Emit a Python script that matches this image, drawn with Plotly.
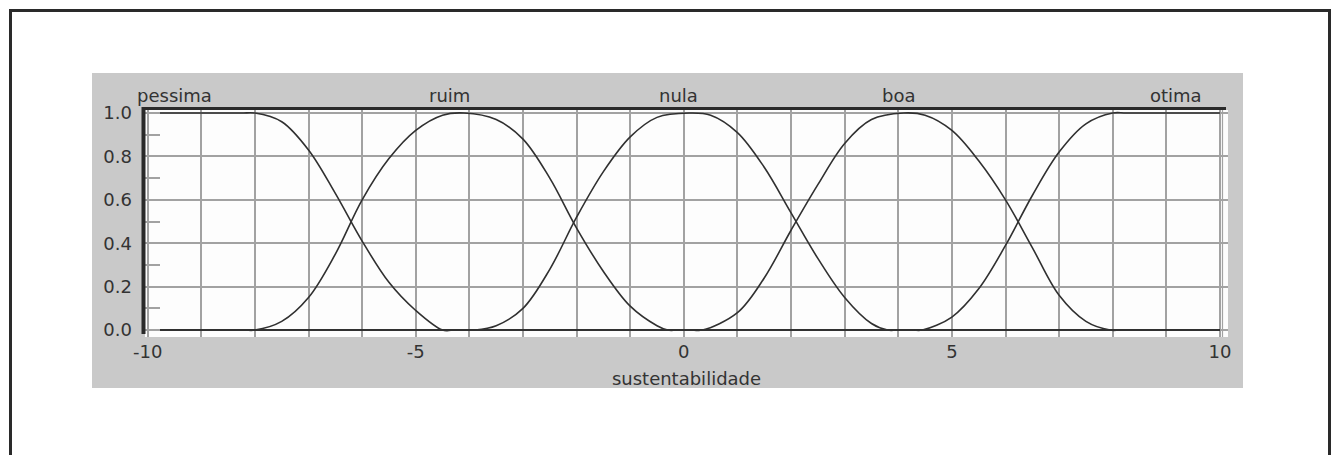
import plotly.graph_objects as go

# membership curves (x: sustentabilidade, y: degree)
pessima_x = [-10, -9, -8.25, -8, -7.5, -7, -6.5, -6, -5.5, -5, -4.5, -4.3, -3, 10]
pessima_y = [1, 1, 1, 1, 0.96, 0.83, 0.63, 0.41, 0.22, 0.09, 0, 0, 0, 0]

ruim_x = [-10, -9, -8.2, -8, -7.5, -7, -6.5, -6, -5.5, -5, -4.5, -4.1, -3.5, -3, -2.5, -2, -1.5, -1, -0.5, -0.3, -0.1, 1, 10]
ruim_y = [0, 0, 0, 0, 0.04, 0.15, 0.35, 0.6, 0.79, 0.92, 0.99, 1, 0.97, 0.88, 0.7, 0.47, 0.27, 0.11, 0.02, 0, 0, 0, 0]

nula_x = [-10, -5, -4.1, -3.9, -3.5, -3, -2.5, -2, -1.5, -1, -0.5, 0.1, 0.5, 1, 1.5, 2, 2.5, 3, 3.5, 3.8, 4.0, 5, 10]
nula_y = [0, 0, 0, 0, 0.02, 0.1, 0.28, 0.52, 0.73, 0.89, 0.98, 1, 0.99, 0.91, 0.75, 0.54, 0.33, 0.15, 0.03, 0, 0, 0, 0]

boa_x = [-10, -1, 0.15, 0.35, 1, 1.5, 2, 2.5, 3, 3.5, 4.1, 4.5, 5, 5.5, 6, 6.5, 7, 7.5, 7.95, 8.15, 9, 10]
boa_y = [0, 0, 0, 0, 0.08, 0.24, 0.46, 0.67, 0.86, 0.97, 1, 0.99, 0.92, 0.78, 0.6, 0.38, 0.16, 0.04, 0, 0, 0, 0]

otima_x = [-10, 3, 4.25, 4.45, 5, 5.5, 6, 6.5, 7, 7.5, 8, 8.25, 9, 10]
otima_y = [0, 0, 0, 0, 0.06, 0.19, 0.39, 0.62, 0.82, 0.95, 1, 1, 1, 1]

labels = ["pessima", "ruim", "nula", "boa", "otima"]
label_x = [-9.5, -4.37, -0.1, 4.0, 9.18]

x_ticks = [-10, -5, 0, 5, 10]
y_ticks = [0.0, 0.2, 0.4, 0.6, 0.8, 1.0]

W, H = 1334, 455

def px(x):
    return x / W

def py(y):
    return (H - y) / H

ink = "#2a2a2a"
grid = "#a2a2a2"
font = dict(family="DejaVu Sans", size=18, color="#333333")

fig = go.Figure()
for xs, ys in [(pessima_x, pessima_y), (ruim_x, ruim_y), (nula_x, nula_y),
               (boa_x, boa_y), (otima_x, otima_y)]:
    fig.add_trace(go.Scatter(x=xs, y=ys, mode="lines",
                             line=dict(color="#303030", width=1.6, shape="spline", smoothing=1.0),
                             showlegend=False, hoverinfo="skip"))

for txt, lx in zip(labels, label_x):
    fig.add_annotation(x=lx, y=py(95), xref="x", yref="paper", text=txt,
                       showarrow=False, font=font, xanchor="center", yanchor="middle")

shapes = [
    # gray panel
    dict(type="rect", xref="paper", yref="paper", x0=px(92), x1=px(1243), y0=py(388), y1=py(73),
         fillcolor="#c9c9c9", line=dict(width=0), layer="below"),
    # white plot field
    dict(type="rect", xref="paper", yref="paper", x0=px(145), x1=px(1228), y0=py(337), y1=py(110),
         fillcolor="#fdfdfd", line=dict(width=0), layer="below"),
    # outer frame
    dict(type="line", xref="paper", yref="paper", x0=px(10.5), x1=px(10.5), y0=-0.05, y1=py(9), line=dict(color=ink, width=3)),
    dict(type="line", xref="paper", yref="paper", x0=px(9), x1=px(1331), y0=py(10.5), y1=py(10.5), line=dict(color=ink, width=3)),
    dict(type="line", xref="paper", yref="paper", x0=px(1329.5), x1=px(1329.5), y0=-0.05, y1=py(9), line=dict(color=ink, width=3)),
    # plot frame: thick top and left, light right
    dict(type="line", xref="paper", yref="paper", x0=px(142), x1=px(1226), y0=py(108.5), y1=py(108.5), line=dict(color=ink, width=3)),
    dict(type="line", xref="paper", yref="paper", x0=px(143.5), x1=px(143.5), y0=py(334), y1=py(107), line=dict(color=ink, width=4)),
    dict(type="line", xref="paper", yref="paper", x0=px(1222.5), x1=px(1222.5), y0=py(337), y1=py(110), line=dict(color=grid, width=1.2)),
]

fig.update_layout(
    width=W, height=H,
    margin=dict(l=0, r=0, t=0, b=0, pad=0),
    paper_bgcolor="white", plot_bgcolor="rgba(0,0,0,0)",
    font=font,
    shapes=shapes,
    xaxis=dict(domain=[px(145), px(1228)], range=[-10.05, 10.15], automargin=False,
               tickvals=x_ticks, ticktext=[str(v) for v in x_ticks],
               showgrid=True, gridcolor=grid, gridwidth=1.5,
               minor=dict(dtick=1, tick0=0, showgrid=True, gridcolor=grid, gridwidth=1.5),
               zeroline=False, showline=False, ticks="", ticklabelstandoff=2,
               title=dict(text="sustentabilidade", standoff=11, font=font)),
    yaxis=dict(domain=[py(337), py(110)], range=[-0.032, 1.014], automargin=False,
               tickvals=y_ticks, ticktext=["%.1f" % v for v in y_ticks],
               showgrid=True, gridcolor=grid, gridwidth=1.5,
               ticks="inside", ticklen=15, tickcolor=grid, tickwidth=1.5,
               minor=dict(dtick=0.1, tick0=0, ticks="inside", ticklen=15, tickcolor=grid, tickwidth=1.5, showgrid=False),
               zeroline=False, showline=False, ticklabelstandoff=12),
)

# drop the page's default body margin so the figure sits at the window origin
fig.write_html("out.html", config={"displayModeBar": False},
               post_script="document.body.style.margin='0';document.body.style.overflow='hidden';")
